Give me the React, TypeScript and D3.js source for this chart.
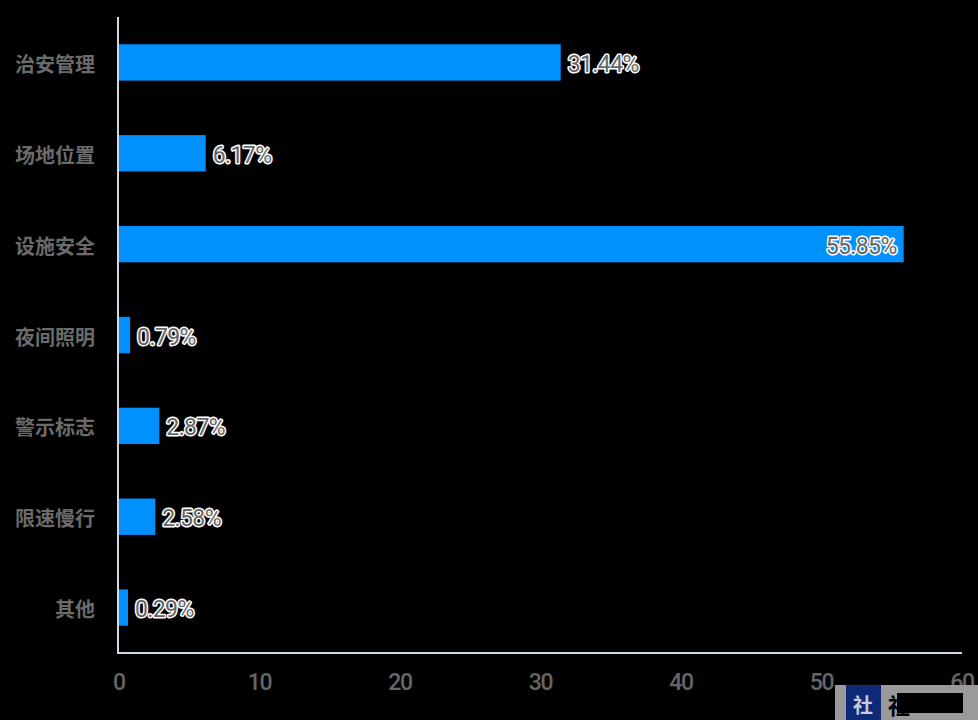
import React, { useEffect, useRef } from "react";
import * as d3 from "d3";

const categories = ["治安管理", "场地位置", "设施安全", "夜间照明", "警示标志", "限速慢行", "其他"];
const values = [31.44, 6.17, 55.85, 0.79, 2.87, 2.58, 0.29];
const xTicks = [0, 10, 20, 30, 40, 50, 60];

const W = 978;
const H = 720;
const M = { left: 119, right: 16, top: 17, bottom: 67 };

export default function App() {
  const ref = useRef<SVGSVGElement | null>(null);

  useEffect(() => {
    const svg = d3.select(ref.current);
    svg.selectAll("*").remove();

    svg.append("rect").attr("width", W).attr("height", H).attr("fill", "#000");

    const x = d3.scaleLinear().domain([0, 60]).range([M.left, W - M.right]);
    const y = d3
      .scaleBand<string>()
      .domain(categories)
      .range([M.top, H - M.bottom])
      .paddingInner(0.6)
      .paddingOuter(0.3);

    const data = categories.map((c, i) => ({ c, v: values[i] }));
    const barW = (v: number) => Math.max(x(v) - x(0), 9);

    // bars
    svg
      .append("g")
      .selectAll("rect")
      .data(data)
      .join("rect")
      .attr("x", x(0))
      .attr("y", (d) => y(d.c)!)
      .attr("width", (d) => barW(d.v))
      .attr("height", y.bandwidth())
      .attr("fill", "#0091ff");

    // axes lines
    svg
      .append("line")
      .attr("x1", x(0) - 1)
      .attr("x2", x(0) - 1)
      .attr("y1", M.top)
      .attr("y2", H - M.bottom)
      .attr("stroke", "#cfd8e8")
      .attr("stroke-width", 2);
    svg
      .append("line")
      .attr("x1", x(0) - 2)
      .attr("x2", x(60))
      .attr("y1", H - M.bottom)
      .attr("y2", H - M.bottom)
      .attr("stroke", "#cfd8e8")
      .attr("stroke-width", 2);

    // category labels
    svg
      .append("g")
      .selectAll("text")
      .data(categories)
      .join("text")
      .attr("x", 95)
      .attr("y", (d) => y(d)! + y.bandwidth() / 2 + 1)
      .attr("text-anchor", "end")
      .attr("dominant-baseline", "central")
      .attr("fill", "#6b6b6b")
      .attr("font-family", "'Noto Sans CJK SC', sans-serif")
      .attr("font-weight", 700)
      .attr("font-size", 20)
      .text((d) => d);

    // x tick labels
    svg
      .append("g")
      .selectAll("text")
      .data(xTicks)
      .join("text")
      .attr("x", (d) => x(d))
      .attr("y", 682)
      .attr("text-anchor", "middle")
      .attr("dominant-baseline", "central")
      .attr("fill", "#666")
      .attr("font-family", "Roboto, sans-serif")
      .attr("font-weight", 500)
      .attr("font-size", 23)
      .attr("letter-spacing", -1.2)
      .text((d) => String(d));

    // value labels
    svg
      .append("g")
      .selectAll("text")
      .data(data)
      .join("text")
      .attr("x", (d) => (d.v > 50 ? x(0) + barW(d.v) - 7 : x(0) + barW(d.v) + 7))
      .attr("y", (d) => y(d.c)! + y.bandwidth() / 2 + 2)
      .attr("text-anchor", (d) => (d.v > 50 ? "end" : "start"))
      .attr("dominant-baseline", "central")
      .attr("fill", "#666")
      .attr("stroke", "#fff")
      .attr("stroke-width", 3)
      .attr("stroke-linejoin", "round")
      .attr("paint-order", "stroke")
      .attr("font-family", "Roboto, sans-serif")
      .attr("font-size", 23)
      .attr("letter-spacing", -0.6)
      .text((d) => d.v.toFixed(2) + "%");

    // watermark
    const wm = svg.append("g");
    wm.append("rect").attr("x", 835).attr("y", 685).attr("width", 143).attr("height", 35).attr("fill", "#9a9a9a");
    wm.append("rect").attr("x", 846).attr("y", 685).attr("width", 35).attr("height", 35).attr("fill", "#0d2a78");
    wm.append("text")
      .attr("x", 863)
      .attr("y", 704)
      .attr("text-anchor", "middle")
      .attr("dominant-baseline", "central")
      .attr("fill", "#c8cbd6")
      .attr("font-family", "'Noto Sans CJK SC', sans-serif")
      .attr("font-weight", 700)
      .attr("font-size", 20)
      .text("社");
    wm.append("text")
      .attr("x", 888)
      .attr("y", 704)
      .attr("dominant-baseline", "central")
      .attr("fill", "#000")
      .attr("font-family", "'Noto Sans CJK SC', sans-serif")
      .attr("font-weight", 700)
      .attr("font-size", 22)
      .text("社");
    wm.append("rect").attr("x", 897).attr("y", 693).attr("width", 66).attr("height", 20).attr("fill", "#000");
  }, []);

  return (
    <svg
      ref={ref}
      width={W}
      height={H}
      style={{ position: "absolute", left: 0, top: 0, display: "block" }}
    />
  );
}
